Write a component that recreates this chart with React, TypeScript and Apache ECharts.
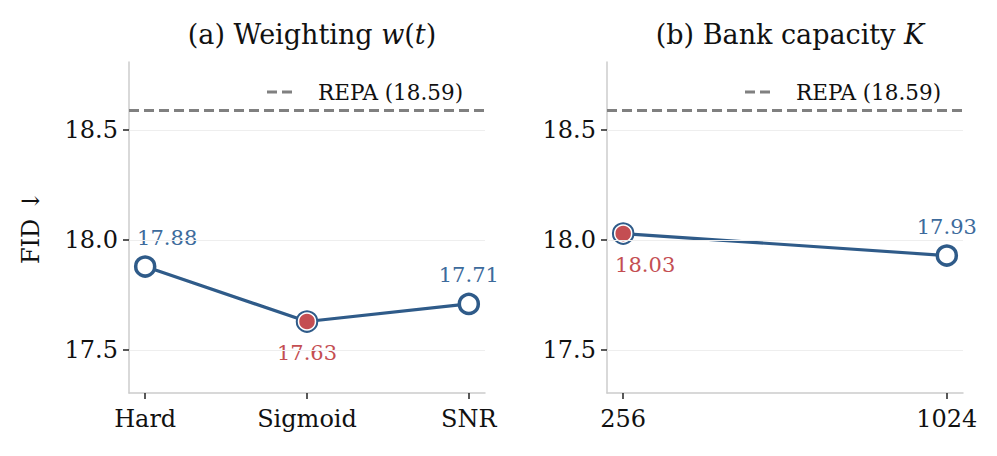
import React, { useEffect, useRef } from "react";
import * as echarts from "echarts";

const weightCats = ["Hard", "Sigmoid", "SNR"];
const weightFID = [17.88, 17.63, 17.71];
const weightChosen = 1;
const bankCats = ["256", "1024"];
const bankFID = [18.03, 17.93];
const bankChosen = 0;
const repaFID = 18.59;
const yTicks = [17.5, 18.0, 18.5];
const titles = ["(a) Weighting {i|w}({i|t})", "(b) Bank capacity {i|K}"];

const FONT = "DejaVu Serif";
const BLUE = "#2f5b89";
const BLUE_LABEL = "#3d6b9c";
const RED = "#c44e52";
const GRAY = "#808080";

const panels = [
  { cats: weightCats, vals: weightFID, chosen: weightChosen, left: 129, pad: 0.1 },
  { cats: bankCats, vals: bankFID, chosen: bankChosen, left: 607, pad: 0.05 },
];

export default function App() {
  const ref = useRef<HTMLDivElement>(null);
  useEffect(() => {
    if (!ref.current) return;
    const chart = echarts.init(ref.current, undefined, { renderer: "svg" });
    const W = 356;
    const top = 62;
    const H = 331;
    const grids: any[] = [];
    const xAxes: any[] = [];
    const yAxes: any[] = [];
    const series: any[] = [];
    const titleArr: any[] = [];
    const graphics: any[] = [];
    panels.forEach((p, i) => {
      grids.push({ left: p.left, top, width: W, height: H, containLabel: false });
      const n = p.cats.length;
      xAxes.push({
        type: "value",
        gridIndex: i,
        min: -p.pad,
        max: n - 1 + p.pad,
        axisLine: { show: true, onZero: false, lineStyle: { color: "#cccccc", width: 1.5 } },
        axisTick: {
          show: true,
          customValues: p.cats.map((_, k) => k),
          length: 6,
          lineStyle: { color: "#222", width: 1.5 },
        },
        axisLabel: {
          customValues: p.cats.map((_, k) => k),
          formatter: (v: number) => p.cats[Math.round(v)] ?? "",
          fontFamily: FONT,
          fontSize: 24,
          color: "#111",
          margin: 14,
        },
        splitLine: { show: false },
      });
      yAxes.push({
        type: "value",
        gridIndex: i,
        min: 17.305,
        max: 18.81,
        axisLine: { show: true, onZero: false, lineStyle: { color: "#cccccc", width: 1.5 } },
        axisTick: {
          show: true,
          customValues: yTicks,
          length: 6,
          lineStyle: { color: "#222", width: 1.5 },
        },
        axisLabel: {
          customValues: yTicks,
          formatter: (v: number) => v.toFixed(1),
          fontFamily: FONT,
          fontSize: 24,
          color: "#111",
          margin: 11,
        },
        splitLine: { show: false },
        name: i === 0 ? "FID ↓" : "",
        nameLocation: "middle",
        nameGap: 86,
        nameRotate: 90,
        nameTextStyle: { fontFamily: FONT, fontSize: 24, color: "#111" },
      });
      // gridlines + REPA reference
      series.push({
        type: "line",
        xAxisIndex: i,
        yAxisIndex: i,
        data: [],
        z: 1,
        silent: true,
        markLine: {
          silent: true,
          symbol: "none",
          label: { show: false },
          animation: false,
          data: [
            ...yTicks.map((t) => ({ yAxis: t, lineStyle: { color: "#eeeeee", width: 1, type: "solid" } })),
            { yAxis: repaFID, lineStyle: { color: GRAY, width: 2.8, type: [10, 5] } },
          ],
        },
      });
      series.push({
        type: "line",
        xAxisIndex: i,
        yAxisIndex: i,
        z: 3,
        symbol: "circle",
        symbolSize: 19,
        lineStyle: { color: BLUE, width: 3.2 },
        itemStyle: { color: "#ffffff", borderColor: BLUE, borderWidth: 3.5 },
        data: p.vals.map((v, k) => {
          const chosen = k === p.chosen;
          return {
            value: [k, v],
            label: {
              show: true,
              position: "inside",
              offset: [k === 0 ? 22 : 0, chosen ? 31 : -29],
              formatter: v.toFixed(2),
              color: chosen ? RED : BLUE_LABEL,
              fontFamily: FONT,
              fontSize: 21,
            },
          };
        }),
      });
      series.push({
        type: "scatter",
        xAxisIndex: i,
        yAxisIndex: i,
        z: 4,
        symbol: "circle",
        symbolSize: 17,
        itemStyle: { color: RED, borderColor: "#ffffff", borderWidth: 1.5, opacity: 1 },
        data: [[p.chosen, p.vals[p.chosen]]],
      });
      titleArr.push({
        text: titles[i],
        left: p.left + W / 2,
        top: 16,
        textAlign: "center",
        textStyle: {
          fontFamily: FONT,
          fontSize: 27,
          fontWeight: "normal",
          color: "#111",
          rich: { i: { fontFamily: FONT, fontStyle: "italic", fontSize: 27, color: "#111" } },
        },
      });
      const lx = p.left + 138;
      graphics.push({
        type: "line",
        shape: { x1: lx, y1: 92, x2: lx + 30, y2: 92 },
        style: { stroke: GRAY, lineWidth: 2.8, lineDash: [10, 5] },
      });
      graphics.push({
        type: "text",
        x: lx + 51,
        y: 92,
        style: {
          text: `REPA (${repaFID.toFixed(2)})`,
          fontFamily: FONT,
          fontSize: 21.5,
          fill: "#111",
          verticalAlign: "middle",
          align: "left",
        },
      });
    });
    chart.setOption({
      animation: false,
      backgroundColor: "#ffffff",
      title: titleArr,
      grid: grids,
      xAxis: xAxes,
      yAxis: yAxes,
      series,
      graphic: graphics,
    });
    return () => chart.dispose();
  }, []);
  return (
    <div
      ref={ref}
      style={{ position: "fixed", left: 0, top: 0, width: 997, height: 456 }}
    />
  );
}
